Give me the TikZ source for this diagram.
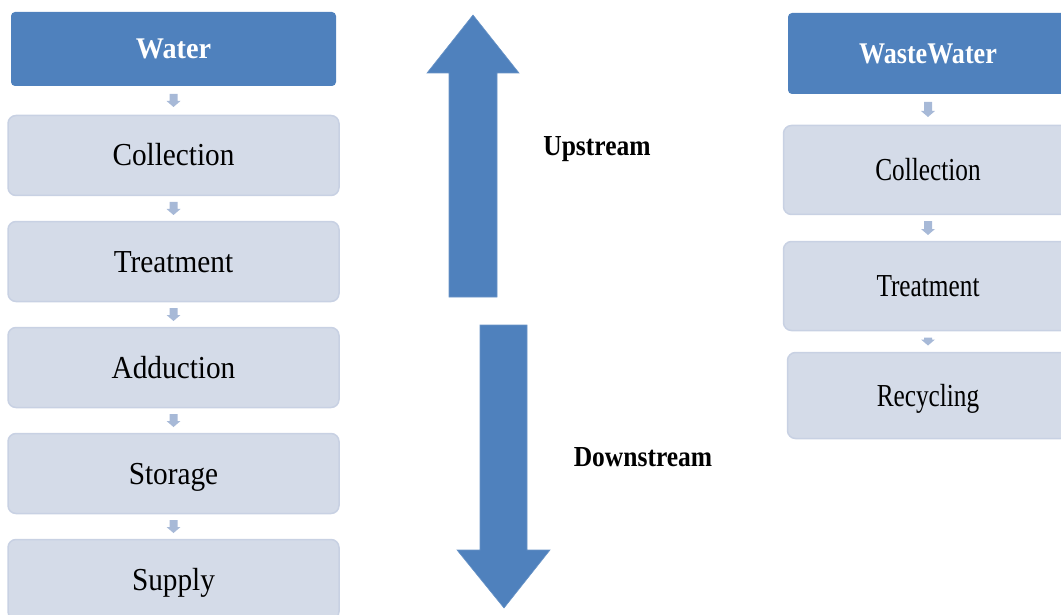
\documentclass[tikz,border=0pt]{standalone}
\usepackage{fontspec}
\setmainfont{Liberation Serif}
\usetikzlibrary{calc}
\definecolor{accent}{HTML}{4F81BD}
\definecolor{stepfill}{HTML}{D4DBE8}
\definecolor{stepline}{HTML}{C8D1E3}
\definecolor{tickfill}{HTML}{A7B9D7}
% horizontally condensed text
\newcommand\squeeze[2]{\scalebox{#1}[1]{#2}}
% small down arrow between two stacked boxes; optional length
\newcommand\flowtick[3][13]{%
  \fill[tickshape] ($(#2.south)!0.5!(#3.north)$) ++(-4,-#1/2) -- ++(8,0) -- ++(0,#1-6)
    -- ++(3,0) -- ++(-7,6) -- ++(-7,-6) -- ++(3,0) -- cycle;}
\begin{document}
\begin{tikzpicture}[x=1pt,y=-1pt,
  header/.style={fill=accent, rounded corners=4pt, inner sep=0pt, text=white,
    font=\fontsize{30}{36}\selectfont\bfseries, text height=20pt, text depth=0pt},
  stepbox/.style={fill=stepfill, draw=stepline, line width=1.5pt, rounded corners=8pt,
    inner sep=0pt, font=\fontsize{32}{38}\selectfont, text height=21pt, text depth=0pt},
  flowlabel/.style={inner sep=0pt, font=\fontsize{29}{34}\selectfont\bfseries,
    text height=19pt, text depth=0pt},
  bigarrow/.style={fill=accent, draw=accent!85!white, line width=0.6pt},
  tickshape/.style={fill=tickfill}
]
\useasboundingbox (0,0) rectangle (1061,615);
\clip (0,0) rectangle (1061,615);

% water chain
\node[header, minimum width=325, minimum height=74] (water) at (173.5,49) {\squeeze{0.94}{Water}};
\node[stepbox, minimum width=331, minimum height=80] (wcoll)  at (173.5,155.5) {\squeeze{0.915}{Collection}};
\node[stepbox, minimum width=331, minimum height=80] (wtreat) at (173.5,261.5) {\squeeze{0.915}{Treatment}};
\node[stepbox, minimum width=331, minimum height=80] (wadd)   at (173.5,367.5) {\squeeze{0.915}{Adduction}};
\node[stepbox, minimum width=331, minimum height=80] (wstor)  at (173.5,473.5) {\squeeze{0.915}{Storage}};
\node[stepbox, minimum width=331, minimum height=80] (wsup)   at (173.5,579.5) {\squeeze{0.915}{Supply}};
\flowtick{water}{wcoll}
\flowtick{wcoll}{wtreat}
\flowtick{wtreat}{wadd}
\flowtick{wadd}{wstor}
\flowtick{wstor}{wsup}

% waste water chain
\node[header, minimum width=280, minimum height=81] (waste) at (928,53.5) {\squeeze{0.87}{WasteWater}};
\node[stepbox, minimum width=289, minimum height=89] (rcoll)  at (928,170) {\squeeze{0.79}{Collection}};
\node[stepbox, minimum width=289, minimum height=89] (rtreat) at (928,286) {\squeeze{0.79}{Treatment}};
\node[stepbox, minimum width=281, minimum height=86] (rrec)   at (928,395.5) {\squeeze{0.79}{Recycling}};
\flowtick[15]{waste}{rcoll}
\flowtick[14]{rcoll}{rtreat}
\flowtick[8]{rtreat}{rrec}

% upstream / downstream block arrows
\filldraw[bigarrow] (449,297) -- (449,73) -- (427,73) -- (473,15) -- (519,73) -- (497,73) -- (497,297) -- cycle;
\filldraw[bigarrow] (480,325) -- (527,325) -- (527,550) -- (550,550) -- (504,608) -- (457,550) -- (480,550) -- cycle;
\node[flowlabel] (up)   at (597,146) {\squeeze{0.88}{Upstream}};
\node[flowlabel] (down) at (643,457) {\squeeze{0.88}{Downstream}};
\end{tikzpicture}
\end{document}
